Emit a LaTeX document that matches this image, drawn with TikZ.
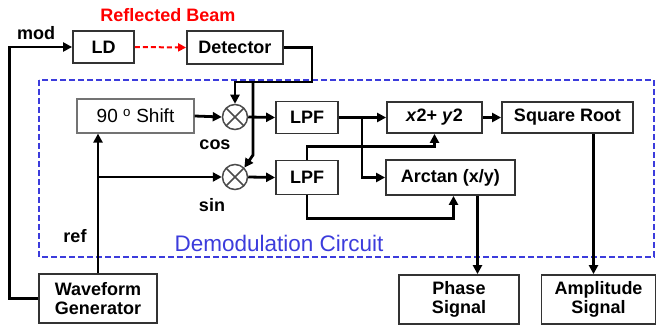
\documentclass[tikz,border=0pt]{standalone}
\usepackage{fontspec}
\setmainfont{Liberation Sans}
\usetikzlibrary{arrows.meta}
\newcommand\bxfont{\fontsize{18}{19.5}\selectfont\bfseries}
\definecolor{demoblue}{RGB}{60,60,220}
\begin{document}
\begin{tikzpicture}[x=1pt,y=-1pt,
  box/.style={draw=black!80, line width=1.8pt, font=\bxfont, inner sep=0pt, align=center},
  conn/.style={line width=2.8pt, black},
  arr/.style={conn, -{Triangle[length=9pt,width=9pt]}},
  mixer/.style={circle, draw=black!70, line width=1.5pt, minimum size=25pt, inner sep=0pt,
    path picture={\draw[black!70, line width=1.5pt] (path picture bounding box.north west) -- (path picture bounding box.south east)
      (path picture bounding box.north east) -- (path picture bounding box.south west);}},
  lab/.style={font=\bxfont, inner sep=0pt}]
\useasboundingbox (0,0) rectangle (657,329);
% demodulation frame
\draw[demoblue, line width=1.8pt, dash pattern=on 6pt off 3pt] (39,80) rectangle (654,257);
\node[font=\fontsize{22.5}{23}\selectfont, text=demoblue, inner sep=0pt] (demo) at (279,243) {Demodulation Circuit};
% boxes
\node[box, minimum width=61pt, minimum height=32pt] (LD) at (103.5,47) {LD};
\node[box, minimum width=96pt, minimum height=33pt] (Det) at (235,47.5) {Detector};
\node[box, draw=black!55, line width=1.2pt, font=\fontsize{19}{20}\selectfont, minimum width=117pt, minimum height=34pt] (Shift) at (135.5,116) {90 \textsuperscript{o} Shift};
\node[mixer] (mixC) at (235,117) {};
\node[mixer] (mixS) at (235,177) {};
\node[box, minimum width=62pt, minimum height=32pt] (LPF1) at (307,117.5) {LPF};
\node[box, minimum width=62pt, minimum height=34pt] (LPF2) at (307,177.5) {LPF};
\node[box, minimum width=95pt, minimum height=31pt] (XY) at (434.5,117.5) {\textit{x}2+ \textit{y}2};
\node[box, minimum width=131pt, minimum height=31pt] (SQ) at (567.5,117.5) {Square Root};
\node[box, minimum width=129pt, minimum height=35pt] (AT) at (450.5,177.5) {Arctan (x/y)};
\node[box, minimum width=118pt, minimum height=49pt] (WG) at (98,298.5) {Waveform\\Generator};
\node[box, minimum width=120pt, minimum height=49pt] (PH) at (459,299.5) {Phase\\Signal};
\node[box, minimum width=114pt, minimum height=49pt] (AM) at (598.5,299.5) {Amplitude\\Signal};
% labels
\node[lab, text=red] (refl) at (168,15) {Reflected Beam};
\node[lab] (mod) at (36,33) {mod};
\node[lab] (cos) at (215,145) {cos};
\node[lab] (sin) at (212,205) {sin};
\node[lab] (ref) at (75,236) {ref};
% connectors
\draw[arr] (WG.west) -- ++(-29,0) |- (LD.west);
\draw[red, line width=2pt, dash pattern=on 5pt off 3pt, -{Triangle[length=8pt,width=8pt]}] (LD.east) -- (Det.west);
\draw[arr] (Det.east) -| (312,82) -| (mixC.north);
\draw[arr] (253,82) -- (253,155) -- (mixS.north east);
\draw[arr] (Shift.east) -- (mixC.west);
\draw[arr] (mixC.east) -- (LPF1.west);
\draw[arr] (WG.north) -- (WG.north |- Shift.south);
\draw[arr] (WG.north |- mixS.west) -- (mixS.west);
\draw[arr] (mixS.east) -- (LPF2.west);
\draw[arr] (LPF1.east) -- (XY.west);
\draw[arr] (362,117.5) |- (AT.west);
\draw[arr] (LPF2.north) -- ++(0,-13) -| (XY.south);
\draw[arr] (LPF2.south) -- ++(0,23) -| ([xshift=3pt]AT.south);
\draw[arr] ([xshift=27pt]AT.south) -- ([xshift=27pt]AT.south |- PH.north);
\draw[arr] ([xshift=26pt]SQ.south) -- ([xshift=26pt]SQ.south |- AM.north);
\draw[arr] (XY.east) -- (SQ.west);
\end{tikzpicture}
\end{document}
